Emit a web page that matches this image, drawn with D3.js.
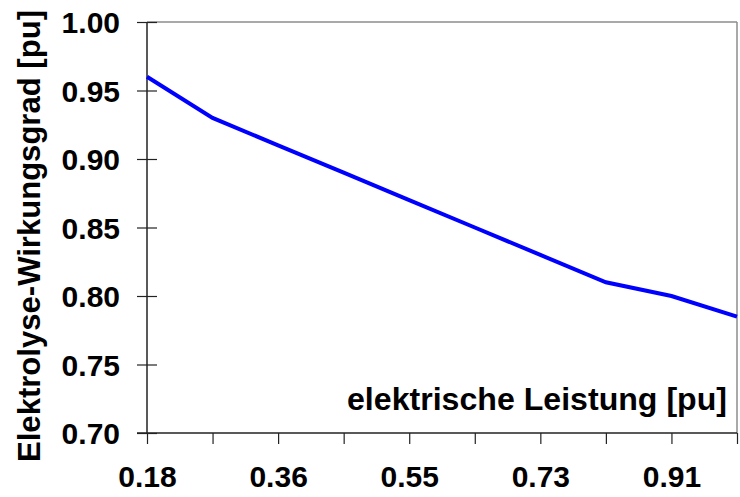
<!DOCTYPE html>
<html>
<head>
<meta charset="utf-8">
<script src="https://cdn.jsdelivr.net/npm/d3@7"></script>
<style>
  body { margin: 0; background: #fff; }
  text { font-family: "Liberation Sans", Arial, sans-serif; font-weight: bold; fill: #000; }
</style>
</head>
<body>
<div id="chart"></div>
<script>
// data
var power = ["0.18", "0.27", "0.36", "0.45", "0.55", "0.64", "0.73", "0.82", "0.91", "1.00"];
var efficiency = [0.96, 0.93, 0.91, 0.89, 0.87, 0.85, 0.83, 0.81, 0.80, 0.785];
var xTickLabels = ["0.18", "0.36", "0.55", "0.73", "0.91"];
var yTicks = [0.70, 0.75, 0.80, 0.85, 0.90, 0.95, 1.00];

// dimensions and margins
var margin = {top: 22, right: 3, bottom: 64, left: 147},
    width = 740 - margin.left - margin.right,
    height = 497 - margin.top - margin.bottom;

var x = d3.scalePoint().domain(power).range([0, width]).padding(0);
var y = d3.scaleLinear().domain([0.70, 1.00]).range([height, 0]);

var svg = d3.select("#chart").append("svg")
    .attr("width", 740)
    .attr("height", 497)
  .append("g")
    .attr("transform", "translate(" + margin.left + "," + margin.top + ")");

// gray frame top and right
svg.append("line")
    .attr("x1", 0).attr("x2", width).attr("y1", 0).attr("y2", 0)
    .attr("stroke", "#8c8c8c").attr("stroke-width", 1.5);
svg.append("line")
    .attr("x1", width).attr("x2", width).attr("y1", 0).attr("y2", height)
    .attr("stroke", "#8c8c8c").attr("stroke-width", 1.5);

// x axis
var xAxis = svg.append("g")
    .attr("transform", "translate(0," + height + ")")
    .call(d3.axisBottom(x).tickSize(11).tickPadding(22)
        .tickFormat(function(d) { return xTickLabels.indexOf(d) >= 0 ? d : ""; }));
xAxis.select(".domain").attr("d", "M-10,0H" + width).attr("stroke", "#222").attr("stroke-width", 1.5);
xAxis.selectAll(".tick line").attr("stroke", "#222").attr("stroke-width", 1.2);
xAxis.selectAll(".tick text").style("font-size", "30px");

// y axis
var yAxis = svg.append("g")
    .call(d3.axisLeft(y).tickValues(yTicks).tickSize(10).tickPadding(17)
        .tickFormat(d3.format(".2f")));
yAxis.select(".domain").attr("d", "M0,0V" + height).attr("stroke", "#222").attr("stroke-width", 1.5);
yAxis.selectAll(".tick line").attr("x2", 10).attr("x1", -10).attr("stroke", "#222").attr("stroke-width", 1.2);
yAxis.selectAll(".tick text").style("font-size", "30px").attr("dy", "0.36em");

// line
var line = d3.line()
    .x(function(d, i) { return x(power[i]); })
    .y(function(d) { return y(d); });

svg.append("path")
    .datum(efficiency)
    .attr("fill", "none")
    .attr("stroke", "#0000ff")
    .attr("stroke-width", 4)
    .attr("d", line);

// axis titles
svg.append("text")
    .attr("x", width - 10)
    .attr("y", height - 23)
    .attr("text-anchor", "end")
    .attr("textLength", 380)
    .attr("lengthAdjust", "spacingAndGlyphs")
    .style("font-size", "32px")
    .text("elektrische Leistung [pu]");

svg.append("text")
    .attr("transform", "translate(" + (40 - margin.left) + "," + (236 - margin.top) + ") rotate(-90)")
    .attr("text-anchor", "middle")
    .attr("textLength", 452)
    .attr("lengthAdjust", "spacingAndGlyphs")
    .style("font-size", "31px")
    .text("Elektrolyse-Wirkungsgrad [pu]");
</script>
</body>
</html>
